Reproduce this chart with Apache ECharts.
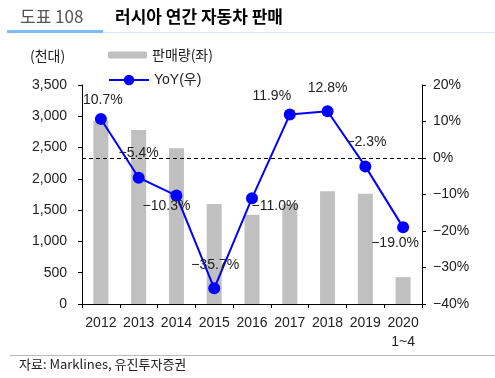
<!DOCTYPE html>
<html><head><meta charset="utf-8">
<script src="https://cdn.jsdelivr.net/npm/echarts@6/dist/echarts.min.js"></script>
<style>html,body{margin:0;padding:0;background:#fff}#c{width:495px;height:378px}</style>
</head><body><div id="c"></div>
<script>
const categories = ['2012','2013','2014','2015','2016','2017','2018','2019','2020\n1~4'];
const sales = [2930, 2780, 2490, 1600, 1425, 1596, 1800, 1760, 430];
const yoy = [10.7, -5.4, -10.3, -35.7, -11.0, 11.9, 12.8, -2.3, -19.0];
const leftTicks = {min: 0, max: 3500, interval: 500};
const rightTicks = {min: -40, max: 20, interval: 10};

const FONT = "'Liberation Sans', 'Noto Sans CJK KR', sans-serif";
const KFONT = "'Noto Sans CJK KR', 'Liberation Sans', sans-serif";
const TXT = '#222';
const labelOffsets = [[2,-19],[0,-25],[-10,11],[1,-23],[23,8],[-18,-18],[0,-23],[1,-24],[-8,16]];
const fmtPct = v => (v < 0 ? '\u2212' + Math.abs(v).toFixed(1) : v.toFixed(1)) + '%';

const chart = echarts.init(document.getElementById('c'), null, {renderer: 'canvas'});
chart.setOption({
  animation: false,
  textStyle: {fontFamily: FONT},
  grid: {left: 82, right: 73, top: 85, bottom: 74},
  legend: [
    {data: ['판매량(좌)'], left: 103, top: 43, itemWidth: 39, itemHeight: 7, itemGap: 6,
     textStyle: {fontFamily: KFONT, fontSize: 14, color: TXT}},
    {data: ['YoY(우)'], left: 103, top: 68, itemWidth: 40, itemHeight: 13, itemGap: 6,
     textStyle: {fontFamily: FONT, fontSize: 14, color: TXT}}
  ],
  xAxis: {
    type: 'category', data: categories,
    axisLine: {lineStyle: {color: '#000', width: 1}},
    axisTick: {show: true, length: 4, interval: 0, lineStyle: {color: '#000'}},
    axisLabel: {fontSize: 14, color: TXT, margin: 10, lineHeight: 19, interval: 0, fontFamily: FONT}
  },
  yAxis: [
    {type: 'value', min: leftTicks.min, max: leftTicks.max, interval: leftTicks.interval,
     axisLine: {show: true, lineStyle: {color: '#000'}},
     axisTick: {show: true, length: 4, lineStyle: {color: '#000'}},
     splitLine: {show: false},
     axisLabel: {fontSize: 14, color: TXT, margin: 15, formatter: v => v.toLocaleString('en-US')}},
    {type: 'value', min: rightTicks.min, max: rightTicks.max, interval: rightTicks.interval, position: 'right',
     axisLine: {show: true, lineStyle: {color: '#000'}},
     axisTick: {show: true, length: 4, lineStyle: {color: '#000'}},
     splitLine: {show: false},
     axisLabel: {fontSize: 14, color: TXT, margin: 11,
       formatter: v => (v < 0 ? '\u2212' + Math.abs(v) : v) + '%'}}
  ],
  series: [
    {name: '판매량(좌)', type: 'bar', data: sales, barWidth: 15, yAxisIndex: 0,
     itemStyle: {color: '#c0c0c0'}},
    {name: 'YoY(우)', type: 'line', yAxisIndex: 1, z: 5,
     data: yoy.map((v, i) => ({value: v, label: {offset: labelOffsets[i]}})),
     symbol: 'circle', symbolSize: 12,
     lineStyle: {color: '#0000ff', width: 2},
     itemStyle: {color: '#0000ff'},
     label: {show: true, position: 'inside', align: 'center', verticalAlign: 'middle',
       fontSize: 14, color: TXT, fontFamily: FONT, formatter: p => fmtPct(p.value)},
     markLine: {silent: true, symbol: 'none', label: {show: false},
       lineStyle: {color: '#000', type: [4, 3], width: 1},
       data: [{yAxis: 0}]}}
  ],
  graphic: [
    {type: 'text', left: 20, top: 8, style: {text: '도표 108', font: "17px " + KFONT, fill: '#555'}},
    {type: 'text', left: 115, top: 8, style: {text: '러시아 연간 자동차 판매', font: "bold 17px " + KFONT, fill: '#000'}},
    {type: 'rect', shape: {x: 7, y: 32, width: 488, height: 1}, style: {fill: '#d5e6f5'}},
    {type: 'rect', shape: {x: 7, y: 30, width: 96, height: 3}, style: {fill: '#7bbff8'}},
    {type: 'text', left: 30, top: 49, style: {text: '(천대)', font: "14px " + KFONT, fill: TXT}},
    {type: 'rect', shape: {x: 10, y: 355, width: 485, height: 1}, style: {fill: '#bbb'}},
    {type: 'text', left: 19, top: 358, style: {text: '자료: Marklines, 유진투자증권', font: "13px " + KFONT, fill: '#222'}}
  ]
});
</script></body></html>
